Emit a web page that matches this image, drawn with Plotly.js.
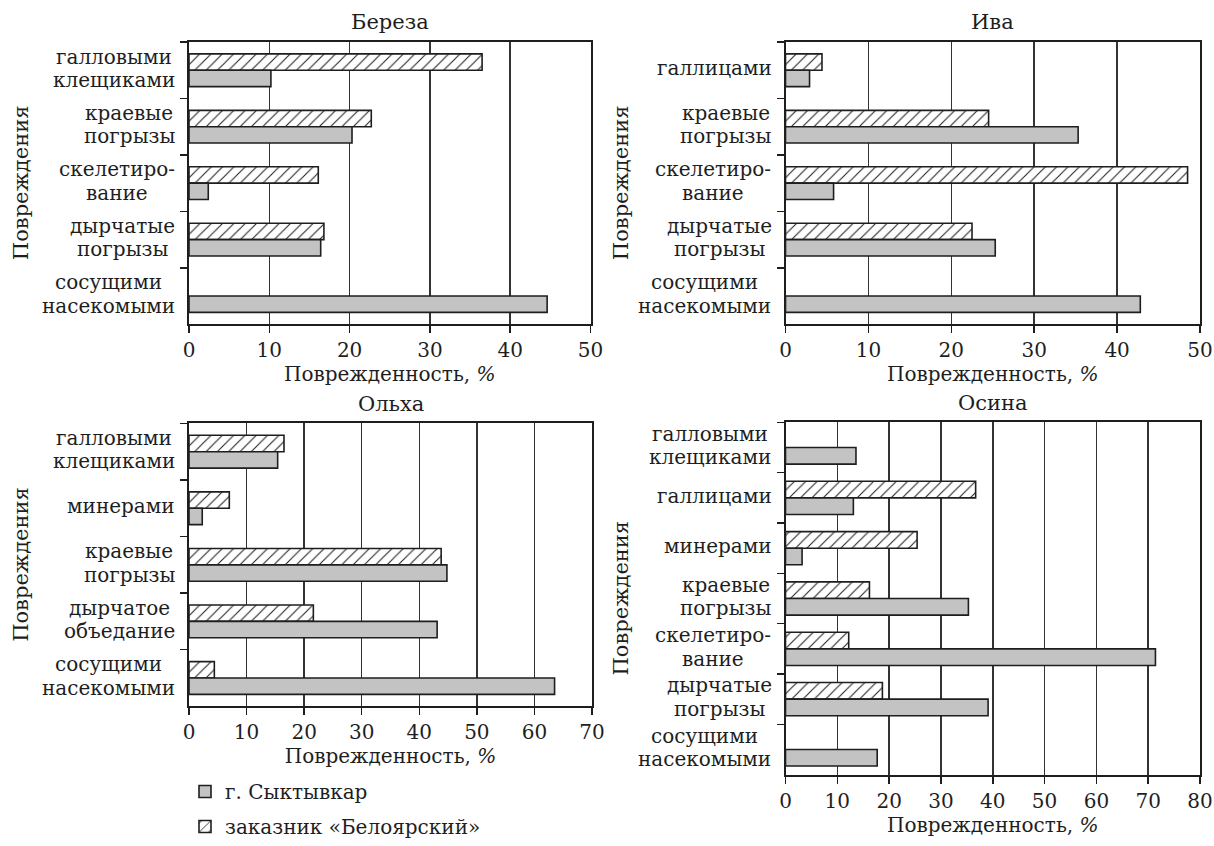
<!DOCTYPE html>
<html>
<head>
<meta charset="utf-8">
<script src="https://cdn.plot.ly/plotly-3.0.1.min.js"></script>
<style>html,body{margin:0;padding:0;background:#fff;}#chart{width:1214px;height:846px;}</style>
</head>
<body>
<div id="chart"></div>
<script>
// ---- data (categories listed top to bottom) ----
const seriesNames = ['г. Сыктывкар', 'заказник «Белоярский»'];
const panelTitles = ['Береза', 'Ива', 'Ольха', 'Осина'];
const xTitle = 'Поврежденность, <i>%</i>';
const yTitle = 'Повреждения';

const birchCats = ['галловыми<br>клещиками', 'краевые<br>погрызы', 'скелетиро-<br>вание', 'дырчатые<br>погрызы', 'сосущими<br>насекомыми'];
const birchCity = [10.2, 20.3, 2.4, 16.4, 44.6];
const birchReserve = [36.5, 22.7, 16.1, 16.8, null];

const willowCats = ['галлицами', 'краевые<br>погрызы', 'скелетиро-<br>вание', 'дырчатые<br>погрызы', 'сосущими<br>насекомыми'];
const willowCity = [2.9, 35.3, 5.8, 25.3, 42.8];
const willowReserve = [4.4, 24.5, 48.5, 22.5, null];

const alderCats = ['галловыми<br>клещиками', 'минерами', 'краевые<br>погрызы', 'дырчатое<br>объедание', 'сосущими<br>насекомыми'];
const alderCity = [15.4, 2.3, 44.8, 43.1, 63.5];
const alderReserve = [16.5, 7.0, 43.8, 21.6, 4.4];

const aspenCats = ['галловыми<br>клещиками', 'галлицами', 'минерами', 'краевые<br>погрызы', 'скелетиро-<br>вание', 'дырчатые<br>погрызы', 'сосущими<br>насекомыми'];
const aspenCity = [13.6, 13.1, 3.2, 35.3, 71.4, 39.1, 17.7];
const aspenReserve = [null, 36.7, 25.4, 16.2, 12.2, 18.7, null];

const xMax = [50, 50, 70, 80];

// ---- layout geometry (pixels) ----
const W = 1214, H = 846;
const boxes = [
  {l: 189, r: 590.5, t: 42.7, b: 329.3, w: 0.29},
  {l: 785.5, r: 1200, t: 42.7, b: 329.3, w: 0.29},
  {l: 189, r: 592, t: 430, b: 717.3, w: 0.29},
  {l: 785.5, r: 1200, t: 429, b: 786.7, w: 0.33}
];
const panels = [
  {cats: birchCats, city: birchCity, res: birchReserve},
  {cats: willowCats, city: willowCity, res: willowReserve},
  {cats: alderCats, city: alderCity, res: alderReserve},
  {cats: aspenCats, city: aspenCity, res: aspenReserve}
];

const FONT = 'DejaVu Serif';
const INK = '#1e1e1e';
const FS = 20;
const LINE = 23.5;

// text measuring for centred multi-line category labels
const ctx = document.createElement('canvas').getContext('2d');
ctx.font = FS + 'px "DejaVu Serif"';
const tw = s => ctx.measureText(s).width;

const traces = [];
const layout = {
  width: W, height: H,
  margin: {l: 0, r: 0, t: 0, b: 0},
  paper_bgcolor: '#fff', plot_bgcolor: '#fff',
  font: {family: FONT, size: FS, color: INK},
  barmode: 'overlay',
  showlegend: true,
  legend: {x: 185 / W, y: 1 - 784 / H, xanchor: 'left', yanchor: 'top',
           bgcolor: 'rgba(0,0,0,0)', font: {family: FONT, size: FS, color: INK},
           tracegroupgap: 6, itemwidth: 30},
  annotations: []
};

panels.forEach((p, i) => {
  const bx = boxes[i];
  const xa = i === 0 ? 'x' : 'x' + (i + 1);
  const ya = i === 0 ? 'y' : 'y' + (i + 1);
  const xk = i === 0 ? 'xaxis' : 'xaxis' + (i + 1);
  const yk = i === 0 ? 'yaxis' : 'yaxis' + (i + 1);
  traces.push({
    type: 'bar', orientation: 'h', name: seriesNames[1],
    x: p.res, y: p.cats, xaxis: xa, yaxis: ya,
    offset: -bx.w, width: bx.w,
    marker: {color: '#fff', line: {color: INK, width: 1.6},
             pattern: {shape: '/', fgcolor: INK, bgcolor: '#fff', size: 8, solidity: 0.13}},
    showlegend: i === 0, legendgroup: 'res', legendrank: 2, hoverinfo: 'x+y'
  });
  traces.push({
    type: 'bar', orientation: 'h', name: seriesNames[0],
    x: p.city, y: p.cats, xaxis: xa, yaxis: ya,
    offset: 0, width: bx.w,
    marker: {color: '#c3c3c3', line: {color: INK, width: 1.6}},
    showlegend: i === 0, legendgroup: 'city', legendrank: 1, hoverinfo: 'x+y'
  });
  layout[xk] = {
    domain: [bx.l / W, bx.r / W], anchor: ya, range: [0, xMax[i]], dtick: 10,
    ticks: 'outside', ticklen: 7, tickwidth: 1.5, tickcolor: INK,
    showgrid: true, gridcolor: '#333', gridwidth: 1.5, zeroline: false,
    showline: true, mirror: true, linecolor: INK, linewidth: 2,
    tickfont: {family: FONT, size: FS, color: INK},
    title: {text: xTitle, standoff: 3, font: {family: FONT, size: FS, color: INK}},
    fixedrange: true
  };
  layout[yk] = {
    domain: [1 - bx.b / H, 1 - bx.t / H], anchor: xa, type: 'category',
    categoryorder: 'array', categoryarray: p.cats,
    range: [p.cats.length - 0.5, -0.5],
    tickson: 'boundaries', ticks: 'outside', ticklen: 7, tickwidth: 1.5, tickcolor: INK,
    showticklabels: false, showgrid: false, zeroline: false,
    showline: true, mirror: true, linecolor: INK, linewidth: 2, fixedrange: true
  };
  // panel title
  layout.annotations.push({xref: 'paper', yref: 'paper', x: (bx.l + bx.r) / 2 / W,
    y: 1 - (bx.t - 20) / H, text: panelTitles[i], showarrow: false,
    xanchor: 'center', yanchor: 'middle', font: {family: FONT, size: 21, color: INK}});
  // y title
  layout.annotations.push({xref: 'paper', yref: 'paper',
    x: (i % 2 === 0 ? 21 : 621) / W, y: 1 - (bx.t + bx.b) / 2 / H,
    text: yTitle, textangle: -90, showarrow: false, xanchor: 'center', yanchor: 'middle',
    font: {family: FONT, size: 21, color: INK}});
  // category labels: each line centred on the label block, block right-aligned
  const right = bx.l - 14;
  p.cats.forEach(c => {
    const lines = c.split('<br>');
    const maxW = Math.max(...lines.map(tw));
    const cx = right - maxW / 2;
    lines.forEach((ln, k) => {
      const shift = ((lines.length - 1) / 2 - k) * LINE + 2;
      layout.annotations.push({xref: 'paper', yref: ya, x: cx / W, y: c,
        yshift: shift, text: ln, showarrow: false, xanchor: 'center', yanchor: 'middle',
        font: {family: FONT, size: FS, color: INK}});
    });
  });
});

Plotly.newPlot('chart', traces, layout, {displayModeBar: false, staticPlot: true});
</script>
</body>
</html>
